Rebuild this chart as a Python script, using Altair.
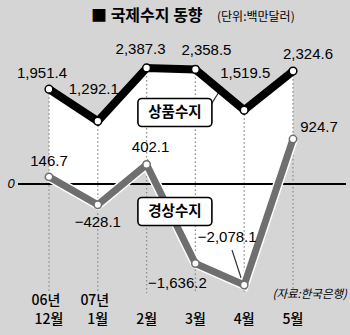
import altair as alt
import pandas as pd

# ---- data ----
year_labels = ["06년", "07년", "", "", "", ""]
month_labels = ["12월", "1월", "2월", "3월", "4월", "5월"]
goods = [1951.4, 1292.1, 2387.3, 2358.5, 1519.5, 2324.6]      # 상품수지
current = [146.7, -428.1, 402.1, -1636.2, -2078.1, 924.7]     # 경상수지

goods_txt = ["1,951.4", "1,292.1", "2,387.3", "2,358.5", "1,519.5", "2,324.6"]
current_txt = ["146.7", "−428.1", "402.1", "−1,636.2", "−2,078.1", "924.7"]

# label offsets (pixels) relative to their points
goods_dx = [-7, -4, -6, 11, 1, 15]
goods_dy = [-16, -32, -19, -19, -37, -17]
cur_dx = [0, 0, 4, -18, -17, 26]
cur_dy = [-16, 17, -17, 19, -48, -12]

# series-name boxes (index position, value position)
box_names = ["상품수지", "경상수지"]
box_idx = [2.58, 2.58]
box_val = [1471, -566]

# leader lines (index, value) -> (index2, value2)
lead_idx = [3.33, 3.75]
lead_val = [1650, -1358]
lead_idx2 = [3.55, 3.95]
lead_val2 = [2000, -1975]

idx = list(range(len(goods)))
df = pd.DataFrame({
    "i": idx, "goods": goods, "current": current,
    "gt": goods_txt, "ct": current_txt,
    "yr": year_labels, "mo": month_labels,
})
boxes = pd.DataFrame({"name": box_names, "i": box_idx, "v": box_val})
leads = pd.DataFrame({"i": lead_idx, "v": lead_val, "i2": lead_idx2, "v2": lead_val2})

X = alt.X("i:Q", scale=alt.Scale(domain=[-1.004, 6.168], nice=False, zero=False), axis=None)
Yscale = alt.Scale(domain=[-3107, 3786], nice=False, zero=False)

NUMFONT = "Liberation Sans"
KFONT = "Noto Sans CJK KR"

base = alt.Chart(df)

area = base.mark_area(color="white", opacity=1).encode(
    x=X, y=alt.Y("goods:Q", scale=Yscale, axis=None), y2="current:Q")

vrules = base.mark_rule(color="#8e8e8e", strokeWidth=1.3, strokeDash=[1.5, 2.5]).encode(
    x=X, y=alt.Y("goods:Q", scale=Yscale), y2=alt.value(293))

zero = alt.Chart(pd.DataFrame({"z": [0]})).mark_rule(color="black", strokeWidth=2).encode(
    y=alt.Y("z:Q", scale=Yscale), x=alt.value(18), x2=alt.value(346))
zero_lbl = alt.Chart(pd.DataFrame({"z": [0], "t": ["0"]})).mark_text(
    font=NUMFONT, fontSize=13, fontStyle="italic", align="center", baseline="middle"
).encode(y=alt.Y("z:Q", scale=Yscale), x=alt.value(11), text="t:N")

lead_rules = alt.Chart(leads).mark_rule(color="#333", strokeWidth=1.2).encode(
    x=X, y=alt.Y("v:Q", scale=Yscale), x2="i2:Q", y2="v2:Q")

cur_halo = base.mark_line(color="white", strokeWidth=10, strokeJoin="miter").encode(
    x=X, y=alt.Y("current:Q", scale=Yscale))
cur_line = base.mark_line(color="#6f6f6f", strokeWidth=7, strokeJoin="miter").encode(
    x=X, y=alt.Y("current:Q", scale=Yscale))
cur_pts = base.mark_point(filled=True, fill="white", stroke="#6f6f6f", strokeWidth=1.5,
                          size=55, opacity=1, shape="circle").encode(
    x=X, y=alt.Y("current:Q", scale=Yscale))

goods_line = base.mark_line(color="black", strokeWidth=8, strokeJoin="miter").encode(
    x=X, y=alt.Y("goods:Q", scale=Yscale))
goods_pts = base.mark_point(filled=True, fill="white", stroke="black", strokeWidth=1.5,
                            size=60, opacity=1, shape="circle").encode(
    x=X, y=alt.Y("goods:Q", scale=Yscale))

def value_labels(field, txt, dxs, dys):
    layers = []
    for k in range(len(df)):
        layers.append(
            alt.Chart(df.iloc[[k]]).mark_text(
                font=NUMFONT, fontSize=15, color="black", align="center", baseline="middle",
                dx=int(dxs[k]), dy=int(dys[k])
            ).encode(x=X, y=alt.Y(f"{field}:Q", scale=Yscale), text=f"{txt}:N")
        )
    return layers

glabels = value_labels("goods", "gt", goods_dx, goods_dy)
clabels = value_labels("current", "ct", cur_dx, cur_dy)

box_rects = alt.Chart(boxes).mark_rect(
    width=74, height=28, cornerRadius=4, fill="white", stroke="black", strokeWidth=1.6
).encode(x=X, y=alt.Y("v:Q", scale=Yscale))
box_text = alt.Chart(boxes).mark_text(
    font=KFONT, fontSize=14.5, fontWeight="bold", color="black", baseline="middle", align="center"
).encode(x=X, y=alt.Y("v:Q", scale=Yscale), text="name:N")

yr_txt = base.mark_text(font=KFONT, fontSize=14, fontWeight=500, color="black",
                        baseline="middle", dx=-3).encode(
    x=X, y=alt.value(301), text="yr:N")
mo_txt = base.mark_text(font=KFONT, fontSize=14, fontWeight=500, color="black",
                        baseline="middle").encode(
    x=X, y=alt.value(320), text="mo:N")

title_df = pd.DataFrame({"t": ["■ 국제수지 동향"], "u": ["(단위:백만달러)"], "s": ["(자료:한국은행)"]})
title = alt.Chart(title_df).mark_text(
    font=KFONT, fontSize=16, fontWeight="bold", align="left", baseline="middle", color="black"
).encode(x=alt.value(91), y=alt.value(16), text="t:N")
unit = alt.Chart(title_df).mark_text(
    font=KFONT, fontSize=12, align="left", baseline="middle", color="black"
).encode(x=alt.value(217), y=alt.value(17), text="u:N")
source = alt.Chart(title_df).mark_text(
    font=KFONT, fontSize=11.5, fontStyle="italic", align="right", baseline="middle", color="black"
).encode(x=alt.value(347), y=alt.value(295), text="s:N")

chart = alt.layer(
    area, vrules, zero, zero_lbl, lead_rules,
    cur_halo, cur_line, cur_pts, goods_line, goods_pts,
    *glabels, *clabels, box_rects, box_text, yr_txt, mo_txt, title, unit, source
).properties(
    width=350, height=335, padding=0, autosize=alt.AutoSizeParams(type="none"),
    background="#d5d5d5"
).configure_view(stroke=None, fill=None)

chart.save("out.html", embed_options={"renderer": "svg", "actions": False})
